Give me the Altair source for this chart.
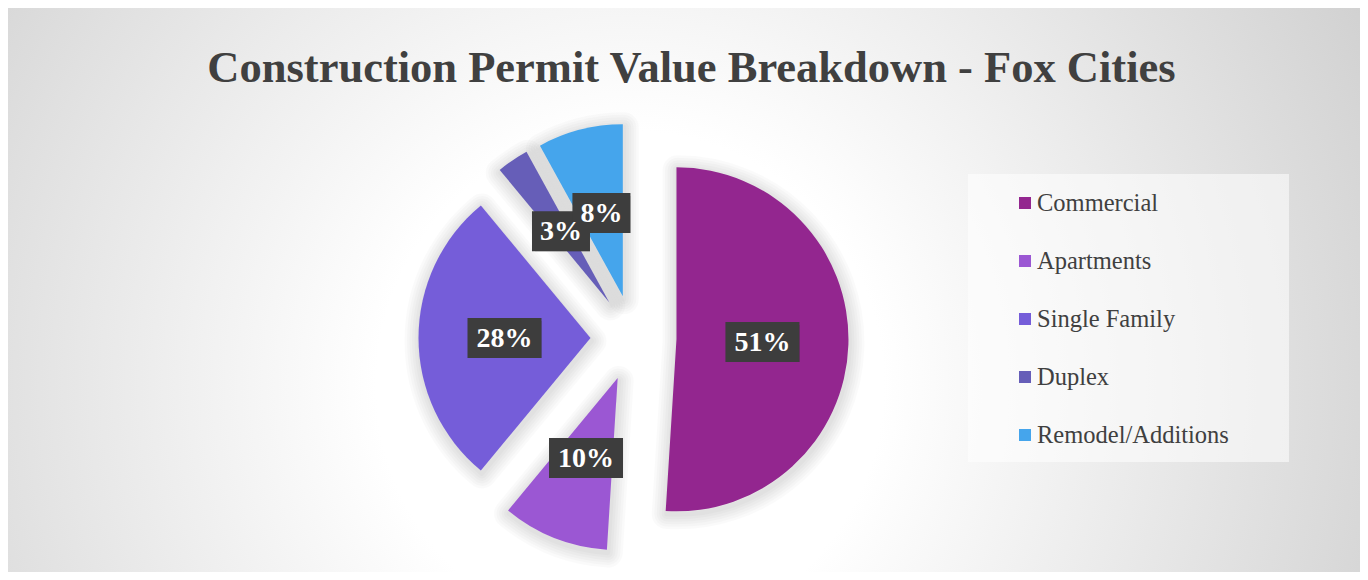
import altair as alt
import pandas as pd

# ---- data ----
TITLE = "Construction Permit Value Breakdown - Fox Cities"
categories = ["Commercial", "Apartments", "Single Family", "Duplex", "Remodel/Additions"]
values = [51, 10, 28, 3, 8]
labels = ["51%", "10%", "28%", "3%", "8%"]
colors = ["#93268f", "#9b57d3", "#755dd9", "#665eb8", "#45a5ec"]

# ---- layout / style ----
W, H = 1352, 564
CX, CY = 625.5, 330.0
R = 172
EXPLODE = 43
LABEL_R = 129
TEXT_COLOR = "#404040"
SERIF = "Liberation Serif"

df = pd.DataFrame({"category": categories, "value": values,
                   "label": labels, "order": list(range(len(values)))})

color = alt.Color("category:N", scale=alt.Scale(domain=categories, range=colors), legend=None)

base = (
    alt.Chart(df)
    .transform_window(cum="sum(value)", sort=[alt.SortField("order")], frame=[None, 0])
    .transform_joinaggregate(total="sum(value)")
    .transform_calculate(start="2*PI*(datum.cum-datum.value)/datum.total")
    .transform_calculate(end="2*PI*datum.cum/datum.total")
    .transform_calculate(mid="(datum.start+datum.end)/2")
    .transform_calculate(px=f"{CX}+{EXPLODE}*sin(datum.mid)")
    .transform_calculate(py=f"{CY}-{EXPLODE}*cos(datum.mid)")
    .transform_calculate(lx=f"{CX}+{LABEL_R}*sin(datum.mid)")
    .transform_calculate(ly=f"{CY}-{LABEL_R}*cos(datum.mid)")
    .transform_calculate(bw="16*length(datum.label)+26")
    .transform_calculate(bx1="datum.lx-datum.bw/2")
    .transform_calculate(bx2="datum.lx+datum.bw/2")
    .transform_calculate(by1="datum.ly-20")
    .transform_calculate(by2="datum.ly+20")
)

one = alt.Data(values=[{}])

bg = alt.Chart(one).mark_rect(
    fill={
        "gradient": "radial",
        "x1": 0.46, "y1": 0.57, "r1": 0.0,
        "x2": 0.46, "y2": 0.57, "r2": 0.75,
        "stops": [
            {"offset": 0.0, "color": "#ffffff"},
            {"offset": 0.25, "color": "#ffffff"},
            {"offset": 1.0, "color": "#c2c2c2"},
        ],
    },
).encode(x=alt.value(0), x2=alt.value(W), y=alt.value(0), y2=alt.value(H))

arc_enc = dict(
    x=alt.X("px:Q", scale=None),
    y=alt.Y("py:Q", scale=None),
    theta=alt.Theta("start:Q", scale=None),
    theta2="end:Q",
)

shadows = [
    base.mark_arc(radius=R, fillOpacity=0, stroke="black", strokeOpacity=0.018,
                  strokeWidth=sw, strokeJoin="round", yOffset=3, xOffset=1).encode(**arc_enc)
    for sw in (30, 25, 20, 15, 10, 5)
]

slices = base.mark_arc(radius=R).encode(color=color, **arc_enc)

box_enc = dict(
    x=alt.X("bx1:Q", scale=None), x2="bx2:Q",
    y=alt.Y("by1:Q", scale=None), y2="by2:Q",
)
box_shadow = base.mark_rect(color="black", opacity=0.28, xOffset=3, yOffset=3).encode(**box_enc)
box = base.mark_rect(color="#3d3d3d").encode(**box_enc)
label_text = base.mark_text(
    font=SERIF, fontWeight="bold", fontSize=28, color="white",
    align="center", baseline="middle", dy=1,
).encode(x=alt.X("lx:Q", scale=None), y=alt.Y("ly:Q", scale=None), text="label:N")

# legend (manual, positioned box)
leg = alt.Chart(df).transform_calculate(ly="195+58*datum.order")
legend_box = alt.Chart(one).mark_rect(fill="white", opacity=0.55).encode(
    x=alt.value(960), x2=alt.value(1281), y=alt.value(166), y2=alt.value(454)
)
legend_sym = leg.mark_square(size=144, opacity=1).encode(
    x=alt.value(1017), y=alt.Y("ly:Q", scale=None), color=color
)
legend_txt = leg.mark_text(
    font=SERIF, fontSize=24.5, color=TEXT_COLOR, align="left", baseline="middle", dy=1
).encode(x=alt.value(1029), y=alt.Y("ly:Q", scale=None), text="category:N")

title = alt.Chart(one).mark_text(
    text=TITLE, font=SERIF, fontWeight="bold", fontSize=44.5, color=TEXT_COLOR,
    align="center", baseline="alphabetic",
).encode(x=alt.value(683.5), y=alt.value(74))

chart = alt.layer(
    bg, *shadows, slices, box_shadow, box, label_text,
    legend_box, legend_sym, legend_txt, title,
).properties(
    width=W, height=H,
    autosize=alt.AutoSizeParams(type="fit", contains="padding"),
    padding=0,
).configure_view(stroke=None).configure(background="white")

chart.save("out.html", embed_options={"renderer": "svg", "actions": False})
